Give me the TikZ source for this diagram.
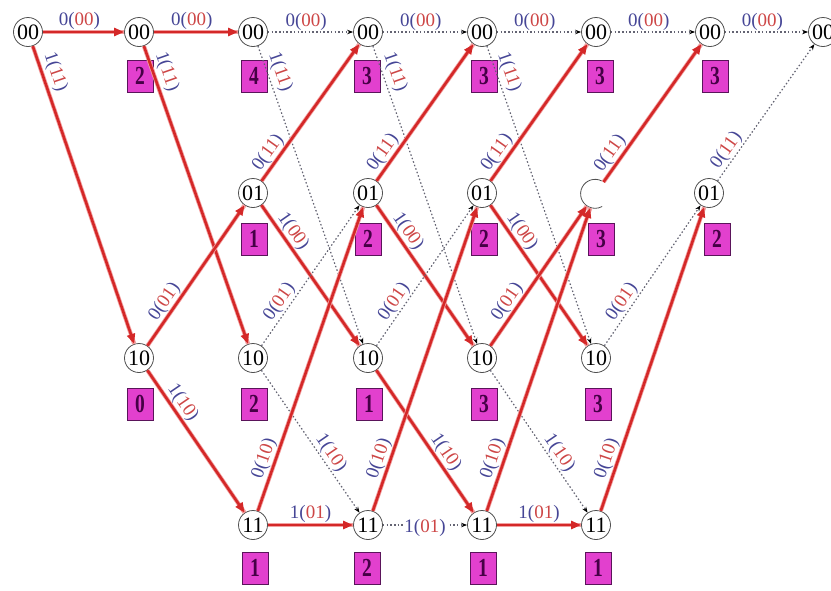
\documentclass[tikz,border=0pt]{standalone}
\usepackage{fontspec}
\setmainfont{Liberation Serif}
\newfontfamily\numfont{Liberation Serif}[FakeStretch=0.75]
\usetikzlibrary{arrows.meta}
\definecolor{redpath}{RGB}{212,40,40}
\definecolor{redglow}{RGB}{242,160,160}
\definecolor{dotgray}{RGB}{100,100,115}
\definecolor{boxfill}{RGB}{226,64,206}
\definecolor{boxdraw}{RGB}{90,20,90}
\definecolor{boxtext}{RGB}{70,0,70}
\definecolor{labblue}{RGB}{70,70,150}
\definecolor{labred}{RGB}{205,70,70}
\definecolor{circdraw}{RGB}{80,80,80}
\newcommand{\lab}[2]{\textcolor{labblue}{#1(}\textcolor{labred}{#2}\textcolor{labblue}{)}}
\tikzset{
  state/.style={circle, draw=circdraw, line width=0.8pt, minimum size=29pt, inner sep=0pt,
    font=\fontsize{22}{22}\selectfont, fill=white},
  ghost/.style={circle, minimum size=29pt, inner sep=0pt},
  metric/.style={rectangle, draw=boxdraw, line width=0.8pt, fill=boxfill, minimum width=26pt,
    minimum height=32pt, inner sep=0pt, text=boxtext, font=\numfont\bfseries\fontsize{26}{26}\selectfont},
  surv/.style={draw=redpath, line width=2.6pt, -{Triangle[length=10pt,width=8pt]},
    preaction={draw=redglow, line width=4.2pt, arrows=-}},
  disc/.style={draw=dotgray, line width=1.2pt, dash pattern=on 1.5pt off 2.2pt,
    -{Stealth[length=6pt,width=4.5pt,color=black]}},
  lab/.style={font=\fontsize{19}{19}\selectfont, sloped, inner sep=1pt},
}
\begin{document}
\begin{tikzpicture}[x=1pt,y=-1pt]
\useasboundingbox (0,0) rectangle (831,590);
% states
\node[state] (n00) at (28,32) {00};
\node[state] (n10) at (139,32) {00};
\node[state] (n12) at (139,358) {10};
\node[state] (n20) at (253,32) {00};
\node[state] (n21) at (253,193) {01};
\node[state] (n22) at (253,358) {10};
\node[state] (n23) at (253,525) {11};
\node[state] (n30) at (368,32) {00};
\node[state] (n31) at (368,193) {01};
\node[state] (n32) at (368,358) {10};
\node[state] (n33) at (368,525) {11};
\node[state] (n40) at (482,32) {00};
\node[state] (n41) at (482,193) {01};
\node[state] (n42) at (482,358) {10};
\node[state] (n43) at (482,525) {11};
\node[state] (n50) at (596,32) {00};
\node[ghost] (n51) at (595,194) {};
\node[state] (n52) at (596,358) {10};
\node[state] (n53) at (596,525) {11};
\node[state] (n60) at (710,32) {00};
\node[state] (n61) at (709,193) {01};
\node[state] (n70) at (823,32) {00};
\draw[circdraw, line width=0.8pt] (n51.63) arc[start angle=63, end angle=299, radius=14.5pt];
% metrics
\node[metric] (m10) at (140,76) {2};
\node[metric] (m12) at (140,404) {0};
\node[metric] (m20) at (254,76) {4};
\node[metric] (m21) at (254,239) {1};
\node[metric] (m22) at (254,404) {2};
\node[metric] (m23) at (255,568) {1};
\node[metric] (m30) at (367,76) {3};
\node[metric] (m31) at (368,239) {2};
\node[metric] (m32) at (369,404) {1};
\node[metric] (m33) at (367,568) {2};
\node[metric] (m40) at (484,76) {3};
\node[metric] (m41) at (484,239) {2};
\node[metric] (m42) at (484,404) {3};
\node[metric] (m43) at (483,568) {1};
\node[metric] (m50) at (600,76) {3};
\node[metric] (m51) at (601,239) {3};
\node[metric] (m52) at (598,404) {3};
\node[metric] (m53) at (598,568) {1};
\node[metric] (m60) at (715,76) {3};
\node[metric] (m61) at (717,239) {2};
% column 0 -> 1
\draw[surv] (n00) -- node[lab,above,pos=0.45]{\lab{0}{00}} (n10);
\draw[surv] (n00) -- node[lab,above=2pt,pos=0.1]{\lab{1}{11}} (n12);
% column 1 -> 2
\draw[surv] (n10) -- node[lab,above,pos=0.45]{\lab{0}{00}} (n20);
\draw[surv] (n10) -- node[lab,above=2pt,pos=0.1]{\lab{1}{11}} (n22);
\draw[surv] (n12) -- node[lab,above,pos=0.27]{\lab{0}{01}} (n21);
\draw[surv] (n12) -- node[lab,above,pos=0.27]{\lab{1}{10}} (n23);
% column 2 -> 3
\draw[disc] (n20) -- node[lab,above,pos=0.45]{\lab{0}{00}} (n30);
\draw[disc] (n20) -- node[lab,above=2pt,pos=0.1]{\lab{1}{11}} (n32);
\draw[surv] (n21) -- node[lab,above,pos=0.16]{\lab{0}{11}} (n30);
\draw[surv] (n21) -- node[lab,above,pos=0.23]{\lab{1}{00}} (n32);
\draw[disc] (n22) -- node[lab,above,pos=0.27]{\lab{0}{01}} (n31);
\draw[disc] (n22) -- node[lab,above,pos=0.62]{\lab{1}{10}} (n33);
\draw[surv] (n23) -- node[lab,above,pos=0.16]{\lab{0}{10}} (n31);
\draw[surv] (n23) -- node[lab,above,pos=0.5]{\lab{1}{01}} (n33);
% column 3 -> 4
\draw[disc] (n30) -- node[lab,above,pos=0.45]{\lab{0}{00}} (n40);
\draw[disc] (n30) -- node[lab,above=2pt,pos=0.1]{\lab{1}{11}} (n42);
\draw[surv] (n31) -- node[lab,above,pos=0.16]{\lab{0}{11}} (n40);
\draw[surv] (n31) -- node[lab,above,pos=0.23]{\lab{1}{00}} (n42);
\draw[disc] (n32) -- node[lab,above,pos=0.27]{\lab{0}{01}} (n41);
\draw[surv] (n32) -- node[lab,above,pos=0.62]{\lab{1}{10}} (n43);
\draw[surv] (n33) -- node[lab,above,pos=0.16]{\lab{0}{10}} (n41);
\draw[disc] (n33) -- node[lab,pos=0.5,fill=white,yshift=-3pt]{\lab{1}{01}} (n43);
% column 4 -> 5
\draw[disc] (n40) -- node[lab,above,pos=0.45]{\lab{0}{00}} (n50);
\draw[disc] (n40) -- node[lab,above=2pt,pos=0.1]{\lab{1}{11}} (n52);
\draw[surv] (n41) -- node[lab,above,pos=0.16]{\lab{0}{11}} (n50);
\draw[surv] (n41) -- node[lab,above,pos=0.23]{\lab{1}{00}} (n52);
\draw[surv] (n42) -- node[lab,above,pos=0.27]{\lab{0}{01}} (n51);
\draw[disc] (n42) -- node[lab,above,pos=0.62]{\lab{1}{10}} (n53);
\draw[surv] (n43) -- node[lab,above,pos=0.16]{\lab{0}{10}} (n51);
\draw[surv] (n43) -- node[lab,above,pos=0.5]{\lab{1}{01}} (n53);
% column 5 -> 6
\draw[disc] (n50) -- node[lab,above,pos=0.45]{\lab{0}{00}} (n60);
\draw[surv] (n51) -- node[lab,above,pos=0.16]{\lab{0}{11}} (n60);
\draw[disc] (n52) -- node[lab,above,pos=0.27]{\lab{0}{01}} (n61);
\draw[surv] (n53) -- node[lab,above,pos=0.16]{\lab{0}{10}} (n61);
% column 6 -> 7
\draw[disc] (n60) -- node[lab,above,pos=0.45]{\lab{0}{00}} (n70);
\draw[disc] (n61) -- node[lab,above,pos=0.18]{\lab{0}{11}} (n70);
\end{tikzpicture}
\end{document}
